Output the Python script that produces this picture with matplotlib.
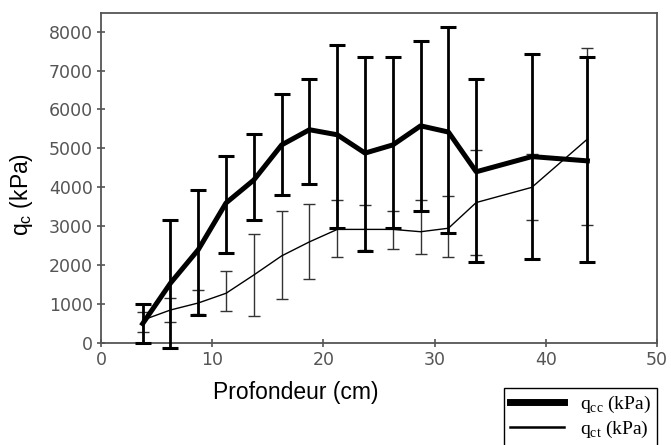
import numpy as np
import matplotlib.pyplot as plt
from matplotlib.lines import Line2D

# Depth (cm)
depth = [3.75, 6.25, 8.75, 11.25, 13.75, 16.25, 18.75, 21.25, 23.75, 26.25,
         28.75, 31.25, 33.75, 38.75, 43.75]

# q_cc: mean, lower and upper error bar ends (kPa)
qcc_mean = [500, 1540, 2400, 3600, 4190, 5090, 5480, 5350, 4880, 5090,
            5580, 5420, 4400, 4790, 4680]
qcc_low = [0, -130, 720, 2320, 3160, 3800, 4090, 2950, 2370, 2950,
           3380, 2840, 2090, 2150, 2070]
qcc_high = [1000, 3150, 3920, 4810, 5370, 6400, 6790, 7660, 7340, 7340,
            7750, 8110, 6790, 7430, 7340]

# q_ct: mean, lower and upper error bar ends (kPa)
qct_mean = [590, 850, 1030, 1280, 1750, 2240, 2600, 2920, 2920, 2920,
            2860, 2950, 3610, 4000, 5240]
qct_low = [290, 550, 750, 830, 690, 1130, 1650, 2220, 2400, 2420,
           2300, 2210, 2250, 3150, 3030]
qct_high = [800, 1150, 1360, 1860, 2800, 3380, 3570, 3680, 3550, 3380,
            3680, 3770, 4960, 4850, 7570]

grey = "#555555"

fig = plt.figure(figsize=(6.71, 4.45), dpi=100)
ax = fig.add_axes([0.1505, 0.229, 0.8285, 0.742])

x = np.array(depth)
m = np.array(qct_mean)
ax.errorbar(x, m, yerr=[m - np.array(qct_low), np.array(qct_high) - m],
            color="black", lw=1.0, ecolor="#333333", elinewidth=1.0,
            capsize=4.5, capthick=1.0, clip_on=False, zorder=2)

m = np.array(qcc_mean)
ax.errorbar(x, m, yerr=[m - np.array(qcc_low), np.array(qcc_high) - m],
            color="black", lw=3.6, ecolor="black", elinewidth=2.0,
            capsize=6, capthick=2.2, clip_on=False, zorder=3)

ax.set_xlim(0, 50)
ax.set_ylim(0, 8480)
ax.set_xticks([0, 10, 20, 30, 40, 50])
ax.set_yticks(range(0, 8001, 1000))
ax.tick_params(direction="inout", length=6, width=1.2, colors=grey,
               labelsize=12.5, pad=3)
for s in ax.spines.values():
    s.set_color(grey)
    s.set_linewidth(1.3)
for t in ax.get_xticklabels() + ax.get_yticklabels():
    t.set_family("DejaVu Sans")

ax.set_xlabel("Profondeur (cm)", family="Liberation Sans", fontsize=16.5)
ax.xaxis.set_label_coords(0.35, -0.115)
ax.set_ylabel(r"$\mathregular{q_c}$ (kPa)", family="Liberation Sans", fontsize=16.5)
ax.yaxis.set_label_coords(-0.118, 0.45)

handles = [Line2D([], [], color="black", lw=5),
           Line2D([], [], color="black", lw=1.8)]
labels = [r"q$_{\mathregular{cc}}$ (kPa)", r"q$_{\mathregular{ct}}$ (kPa)"]
fig.legend(handles, labels, loc="upper left", bbox_to_anchor=(0.751, 0.128),
           frameon=True, fancybox=False, edgecolor="black", framealpha=1,
           prop={"family": "Liberation Serif", "size": 14},
           handlelength=2.8, labelspacing=0.2, borderpad=0.3,
           handletextpad=0.8, borderaxespad=0)

fig.savefig("out.png", dpi=100)
